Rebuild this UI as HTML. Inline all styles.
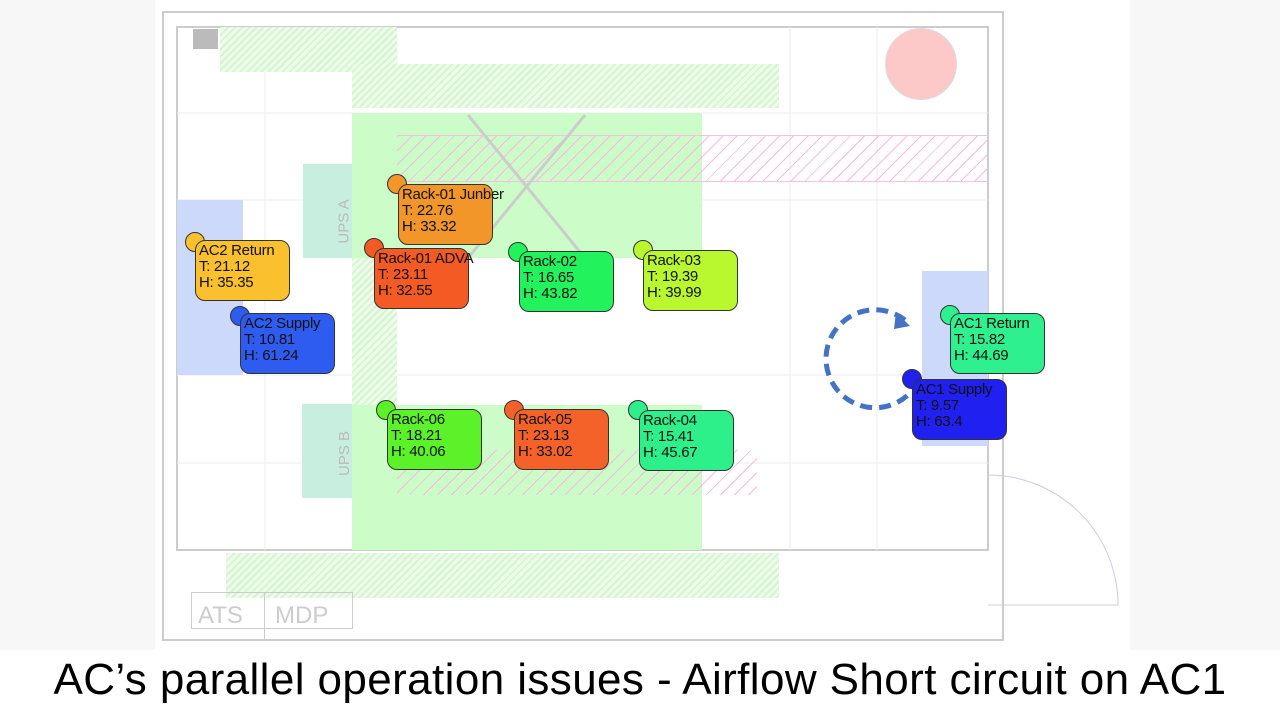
<!DOCTYPE html>
<html><head><style>
body{margin:0;width:1280px;height:720px;background:#fff;position:relative;overflow:hidden;font-family:"Liberation Sans",sans-serif}
.a{position:absolute}
.lbl{position:absolute;border:1px solid #333;border-radius:10px;font-size:15px;line-height:16px;padding:2px 3px;box-sizing:border-box;color:#111;height:61px;width:95px;white-space:nowrap;overflow:visible;letter-spacing:-0.3px}
.dot{position:absolute;width:20px;height:20px;border-radius:50%;border:1px solid #333;box-sizing:border-box}
.hg{background:repeating-linear-gradient(135deg,#d4f5d0 0 2px,#eefbea 2px 5px)}
.hp{background:repeating-linear-gradient(135deg,#f8b8e0 0 1px,transparent 1px 10px)}
</style></head><body>
<div class="a" style="left:0;top:0;width:155px;height:650px;background:#f7f7f7"></div>
<div class="a" style="left:1130px;top:0;width:150px;height:650px;background:#f7f7f7"></div>
<svg class="a" style="left:0;top:0" width="1280" height="650">
<rect x="163" y="12" width="840" height="628" fill="none" stroke="#ccc" stroke-width="2"/>
<rect x="177" y="27" width="811" height="523" fill="none" stroke="#ccc" stroke-width="2"/>
<g stroke="#eee"><line x1="177" y1="113" x2="988" y2="113"/><line x1="177" y1="200" x2="988" y2="200"/><line x1="177" y1="375" x2="988" y2="375"/><line x1="177" y1="463" x2="988" y2="463"/><line x1="265" y1="27" x2="265" y2="550"/><line x1="790" y1="27" x2="790" y2="550"/><line x1="877" y1="27" x2="877" y2="550"/></g>
</svg>
<div class="a hg" style="left:220px;top:27px;width:177px;height:45px"></div>
<div class="a hg" style="left:352px;top:64px;width:427px;height:44px"></div>
<div class="a" style="left:352px;top:113px;width:350px;height:145px;background:#ccfcc8"></div>
<div class="a hg" style="left:352px;top:258px;width:45px;height:147px"></div>
<div class="a" style="left:352px;top:405px;width:350px;height:145px;background:#ccfcc8"></div>
<div class="a hg" style="left:226px;top:553px;width:553px;height:45px"></div>
<div class="a hp" style="left:397px;top:135px;width:591px;height:45px;border-top:1px solid #f8c0e0;border-bottom:1px solid #f8c0e0"></div>
<div class="a hp" style="left:397px;top:450px;width:360px;height:45px"></div>
<div class="a" style="left:193px;top:29px;width:25px;height:20px;background:#bbb"></div>
<div class="a" style="left:303px;top:164px;width:49px;height:94px;background:#c8eee0"></div>
<div class="a" style="left:302px;top:404px;width:50px;height:94px;background:#c8eee0"></div>
<div class="a" style="left:322px;top:213px;transform:rotate(-90deg);color:#bbb;font-size:15px">UPS A</div>
<div class="a" style="left:322px;top:445px;transform:rotate(-90deg);color:#bbb;font-size:15px">UPS B</div>
<div class="a" style="left:177px;top:200px;width:66px;height:175px;background:#ccd9fb"></div>
<div class="a" style="left:922px;top:271px;width:66px;height:175px;background:#ccd9fb"></div>
<div class="a" style="left:885px;top:28px;width:70px;height:70px;border-radius:50%;background:#fcc8c8;border:1px solid #ddd"></div>
<div class="a" style="left:191px;top:592px;width:160px;height:35px;border:1px solid #ccc;color:#ccc;font-size:24px;line-height:46px"><span style="padding-left:6px">ATS</span><span style="position:absolute;left:72px;border-left:1px solid #ccc;padding-left:10px;top:0">MDP</span></div>
<svg class="a" style="left:0;top:0" width="1280" height="650">
<line x1="468" y1="115" x2="585" y2="258" stroke="#ccc" stroke-width="3"/><line x1="585" y1="115" x2="468" y2="258" stroke="#ccc" stroke-width="3"/>
<path d="M988 475 A130 130 0 0 1 1118 605 L988 605" fill="none" stroke="#ccd" stroke-width="1"/>
<path d="M905 320 A49 49 0 1 0 908 395" fill="none" stroke="#4472c4" stroke-width="5" stroke-dasharray="12 7"/>
<polygon points="896,312 910,326 894,329" fill="#4472c4"/>
</svg>
<div class="dot" style="left:387px;top:174px;background:#f39629"></div><div class="lbl" style="left:398px;top:184px;background:#f39629">Rack-01 Junber<br>T: 22.76<br>H: 33.32</div>
<div class="dot" style="left:185px;top:232px;background:#fbc02d"></div><div class="lbl" style="left:195px;top:240px;background:#fbc02d">AC2 Return<br>T: 21.12<br>H: 35.35</div>
<div class="dot" style="left:364px;top:238px;background:#f45a24"></div><div class="lbl" style="left:374px;top:248px;background:#f45a24">Rack-01 ADVA<br>T: 23.11<br>H: 32.55</div>
<div class="dot" style="left:508px;top:242px;background:#22f35c"></div><div class="lbl" style="left:519px;top:251px;background:#22f35c">Rack-02<br>T: 16.65<br>H: 43.82</div>
<div class="dot" style="left:633px;top:240px;background:#b9f72e"></div><div class="lbl" style="left:643px;top:250px;background:#b9f72e">Rack-03<br>T: 19.39<br>H: 39.99</div>
<div class="dot" style="left:230px;top:306px;background:#2e5cf0"></div><div class="lbl" style="left:240px;top:313px;background:#2e5cf0">AC2 Supply<br>T: 10.81<br>H: 61.24</div>
<div class="dot" style="left:940px;top:305px;background:#2ff08f"></div><div class="lbl" style="left:950px;top:313px;background:#2ff08f">AC1 Return<br>T: 15.82<br>H: 44.69</div>
<div class="dot" style="left:902px;top:369px;background:#2020f0"></div><div class="lbl" style="left:912px;top:379px;background:#2020f0">AC1 Supply<br>T: 9.57<br>H: 63.4</div>
<div class="dot" style="left:376px;top:400px;background:#5cf22a"></div><div class="lbl" style="left:387px;top:409px;background:#5cf22a">Rack-06<br>T: 18.21<br>H: 40.06</div>
<div class="dot" style="left:504px;top:400px;background:#f4622a"></div><div class="lbl" style="left:514px;top:409px;background:#f4622a">Rack-05<br>T: 23.13<br>H: 33.02</div>
<div class="dot" style="left:628px;top:400px;background:#2ef08a"></div><div class="lbl" style="left:639px;top:410px;background:#2ef08a">Rack-04<br>T: 15.41<br>H: 45.67</div>
<div class="a" style="left:0;top:654px;width:1280px;text-align:center;font-size:44px;line-height:52px;color:#000;letter-spacing:0.4px;white-space:nowrap">AC’s parallel operation issues - Airflow Short circuit on AC1</div>
</body></html>
